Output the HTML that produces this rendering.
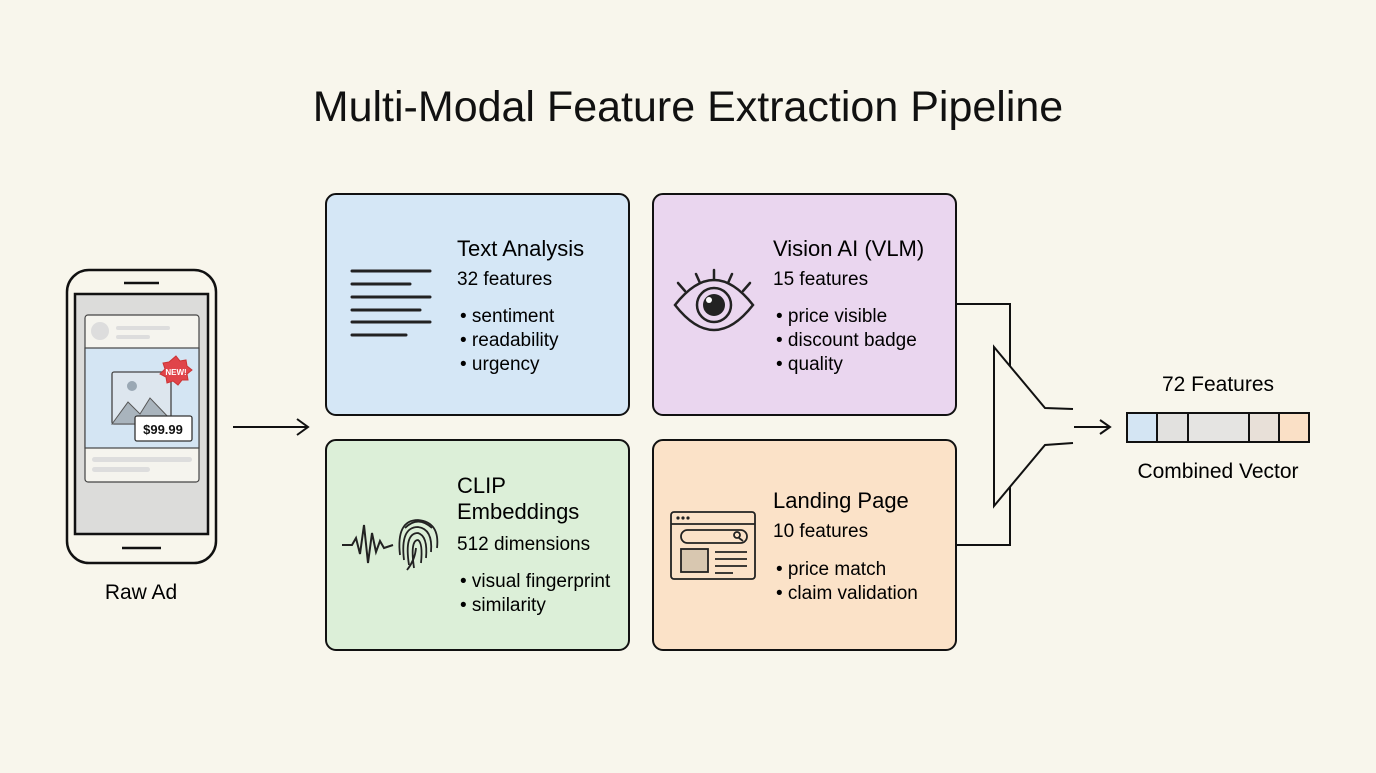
<!DOCTYPE html>
<html><head><meta charset="utf-8"><style>
body{margin:0;width:1376px;height:768px;background:#f8f6ec;overflow:hidden;font-family:"Liberation Sans",sans-serif;color:#111}
</style></head><body>
<svg width="1376" height="768" xmlns="http://www.w3.org/2000/svg" font-family="Liberation Sans, sans-serif">
<text x="688" y="121" text-anchor="middle" font-size="43" fill="#111">Multi-Modal Feature Extraction Pipeline</text>

<!-- phone -->
<rect x="67" y="270" width="149" height="293" rx="22" fill="#f8f6ec" stroke="#111" stroke-width="2.5"/>
<line x1="124" y1="283" x2="159" y2="283" stroke="#111" stroke-width="2.5"/>
<line x1="122" y1="548" x2="161" y2="548" stroke="#111" stroke-width="2.5"/>
<rect x="75" y="294" width="133" height="240" fill="#dcdcda" stroke="#111" stroke-width="2.5"/>
<rect x="85" y="315" width="114" height="167" rx="3" fill="#f5f4ee" stroke="#444" stroke-width="1.2"/>
<rect x="85" y="348" width="114" height="100" fill="#d4e5f3" stroke="#444" stroke-width="1.2"/>
<circle cx="100" cy="331" r="9" fill="#ddd"/>
<rect x="116" y="326" width="54" height="4" rx="2" fill="#ddd"/>
<rect x="116" y="335" width="34" height="4" rx="2" fill="#ddd"/>
<rect x="112" y="372" width="59" height="52" rx="2" fill="#dde6ee" stroke="#444" stroke-width="1.3"/>
<circle cx="132" cy="386" r="5" fill="#9aa8b4"/>
<polygon points="112,424 128,402 140,414 150,398 171,420 171,424" fill="#a9b4bd" stroke="#555" stroke-width="1"/>
<polygon points="176,356 180,361 186,360 187,366 192,370 187,374 188,380 182,380 178,385 173,381 167,383 166,377 160,374 165,369 163,363 169,362" fill="#e0444a" stroke="#c33" stroke-width="1"/>
<text x="176" y="375" text-anchor="middle" font-size="8" font-weight="bold" fill="#fff">NEW!</text>
<rect x="135" y="416" width="57" height="25" rx="2" fill="#fff" stroke="#333" stroke-width="1.3"/>
<text x="163" y="434" text-anchor="middle" font-size="13" font-weight="bold" fill="#111">$99.99</text>
<rect x="92" y="457" width="100" height="5" rx="2.5" fill="#ddd"/>
<rect x="92" y="467" width="58" height="5" rx="2.5" fill="#ddd"/>
<text x="141" y="599" text-anchor="middle" font-size="21">Raw Ad</text>

<!-- arrow -->
<line x1="233" y1="427" x2="307" y2="427" stroke="#111" stroke-width="2"/>
<polyline points="297,419 308,427 297,435" fill="none" stroke="#111" stroke-width="2"/>

<!-- boxes -->
<rect x="326" y="194" width="303" height="221" rx="10" fill="#d5e7f6" stroke="#111" stroke-width="2"/>
<rect x="653" y="194" width="303" height="221" rx="10" fill="#ead6ef" stroke="#111" stroke-width="2"/>
<rect x="326" y="440" width="303" height="210" rx="10" fill="#dcefd8" stroke="#111" stroke-width="2"/>
<rect x="653" y="440" width="303" height="210" rx="10" fill="#fbe2c8" stroke="#111" stroke-width="2"/>

<!-- text icon -->
<g stroke="#222" stroke-width="3" stroke-linecap="round">
<line x1="352" y1="271" x2="430" y2="271"/><line x1="352" y1="284" x2="410" y2="284"/>
<line x1="352" y1="297" x2="430" y2="297"/><line x1="352" y1="310" x2="420" y2="310"/>
<line x1="352" y1="322" x2="430" y2="322"/><line x1="352" y1="335" x2="406" y2="335"/></g>
<g font-size="22"><text x="457" y="256">Text Analysis</text></g>
<g font-size="19"><text x="457" y="285">32 features</text>
<text x="460" y="322">•  sentiment</text><text x="460" y="346">•  readability</text><text x="460" y="370">•  urgency</text></g>

<!-- eye -->
<g stroke="#222" stroke-width="2.5" fill="none" stroke-linecap="round">
<path d="M675,305 Q714,255 753,305 Q714,355 675,305Z"/>
<circle cx="714" cy="305" r="17"/>
<line x1="678" y1="283" x2="685" y2="291"/><line x1="696" y1="274" x2="700" y2="283"/>
<line x1="714" y1="270" x2="714" y2="280"/><line x1="732" y1="274" x2="728" y2="283"/><line x1="750" y1="283" x2="743" y2="291"/></g>
<circle cx="714" cy="305" r="11" fill="#222"/><circle cx="709" cy="300" r="3" fill="#fff"/>
<g font-size="22"><text x="773" y="256">Vision AI (VLM)</text></g>
<g font-size="19"><text x="773" y="285">15 features</text>
<text x="776" y="322">•  price visible</text><text x="776" y="346">•  discount badge</text><text x="776" y="370">•  quality</text></g>

<!-- clip icon -->
<polyline points="342,545 352,545 356,538 360,554 364,525 368,563 372,533 376,552 380,541 384,548 393,545" fill="none" stroke="#222" stroke-width="2"/>
<g fill="none" stroke="#222" stroke-width="1.8">
<path d="M400,555 Q396,520 418,520 Q440,522 437,548"/>
<path d="M404,560 Q400,527 418,527 Q433,529 431,552"/>
<path d="M409,565 Q404,533 418,533 Q428,536 426,558"/>
<path d="M414,568 Q410,540 418,540 Q423,543 421,563"/>
<path d="M407,570 Q415,560 416,548"/>
<path d="M405,528 Q418,515 432,528"/></g>
<g font-size="22"><text x="457" y="493">CLIP</text><text x="457" y="519">Embeddings</text></g>
<g font-size="19"><text x="457" y="550">512 dimensions</text>
<text x="460" y="587">•  visual fingerprint</text><text x="460" y="611">•  similarity</text></g>

<!-- landing icon -->
<g fill="none" stroke="#222" stroke-width="1.8">
<rect x="671" y="512" width="84" height="67" rx="3"/>
<line x1="671" y1="524" x2="755" y2="524"/>
<rect x="681" y="530" width="66" height="13" rx="6.5"/>
<circle cx="737" cy="535" r="3"/><line x1="739" y1="538" x2="743" y2="541"/>
<rect x="681" y="549" width="27" height="23" fill="#d8c7b0"/>
<line x1="715" y1="552" x2="747" y2="552"/><line x1="715" y1="559" x2="747" y2="559"/><line x1="715" y1="566" x2="747" y2="566"/><line x1="715" y1="573" x2="733" y2="573"/></g>
<circle cx="678" cy="518" r="1.6" fill="#222"/><circle cx="683" cy="518" r="1.6" fill="#222"/><circle cx="688" cy="518" r="1.6" fill="#222"/>
<g font-size="22"><text x="773" y="508">Landing Page</text></g>
<g font-size="19"><text x="773" y="537">10 features</text>
<text x="776" y="575">•  price match</text><text x="776" y="599">•  claim validation</text></g>

<!-- bracket & funnel -->
<polyline points="956,304 1010,304 1010,545 956,545" fill="none" stroke="#111" stroke-width="2"/>
<polygon points="994,347 1045,408 1073,409 1073,443 1045,445 994,506" fill="#f8f6ec" stroke="none"/>
<polyline points="1073,409 1045,408 994,347 994,506 1045,445 1073,443" fill="none" stroke="#111" stroke-width="2"/>
<line x1="1074" y1="427" x2="1109" y2="427" stroke="#111" stroke-width="2"/>
<polyline points="1100,420 1110,427 1100,434" fill="none" stroke="#111" stroke-width="2"/>

<text x="1218" y="391" text-anchor="middle" font-size="21">72 Features</text>
<rect x="1127" y="413" width="30" height="29" fill="#d4e5f3"/>
<rect x="1157" y="413" width="31" height="29" fill="#e2e1df"/>
<rect x="1188" y="413" width="61" height="29" fill="#e5e4e2"/>
<rect x="1249" y="413" width="30" height="29" fill="#e8e0d8"/>
<rect x="1279" y="413" width="30" height="29" fill="#fae0c6"/>
<g stroke="#111" stroke-width="2" fill="none"><rect x="1127" y="413" width="182" height="29"/>
<line x1="1157" y1="413" x2="1157" y2="442"/><line x1="1188" y1="413" x2="1188" y2="442"/><line x1="1249" y1="413" x2="1249" y2="442"/><line x1="1279" y1="413" x2="1279" y2="442"/></g>
<text x="1218" y="478" text-anchor="middle" font-size="21">Combined Vector</text>
</svg>
</body></html>
